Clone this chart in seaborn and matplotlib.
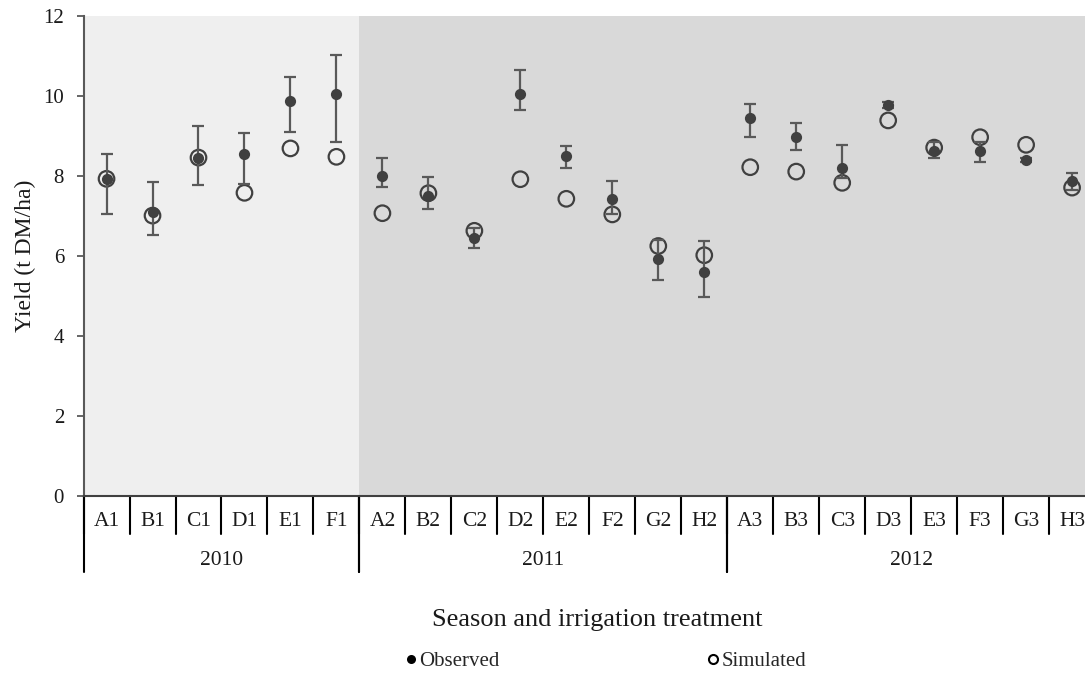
import numpy as np
import pandas as pd
import matplotlib
matplotlib.use("Agg")
import matplotlib.pyplot as plt
from matplotlib.lines import Line2D
import seaborn as sns

# Treatments per season
seasons = ["2010", "2011", "2012"]
treat_2010 = ["A1", "B1", "C1", "D1", "E1", "F1"]
treat_2011 = ["A2", "B2", "C2", "D2", "E2", "F2", "G2", "H2"]
treat_2012 = ["A3", "B3", "C3", "D3", "E3", "F3", "G3", "H3"]

# Yield (t DM/ha)
observed = [7.93, 7.11, 8.46, 8.56, 9.87, 10.04,
            8.01, 7.50, 6.45, 10.06, 8.49, 7.42, 5.93, 5.60,
            9.45, 8.98, 8.21, 9.78, 8.63, 8.63, 8.40, 7.87]
simulated = [7.93, 7.01, 8.46, 7.58, 8.69, 8.48,
             7.07, 7.57, 6.63, 7.92, 7.43, 7.04, 6.25, 6.02,
             8.22, 8.11, 7.83, 9.39, 8.71, 8.97, 8.78, 7.71]
# Lower and upper ends of the observed error bars
obs_low = [7.05, 6.53, 7.78, 7.80, 9.11, 8.85,
           7.72, 7.17, 6.21, 9.65, 8.19, 7.04, 5.39, 4.98,
           8.98, 8.66, 7.94, 9.69, 8.46, 8.35, 8.36, 7.66]
obs_high = [8.55, 7.86, 9.25, 9.08, 10.48, 11.03,
            8.44, 7.97, 6.70, 10.65, 8.75, 7.87, 6.40, 6.38,
            9.80, 9.33, 8.78, 9.86, 8.84, 8.84, 8.44, 8.08]

groups = [treat_2010, treat_2011, treat_2012]
treatments = treat_2010 + treat_2011 + treat_2012
df = pd.DataFrame({
    "treatment": treatments,
    "observed": observed,
    "simulated": simulated,
    "low": obs_low,
    "high": obs_high,
})
df["pos"] = np.arange(len(df))

sns.set_theme(style="white")
plt.rcParams["font.family"] = ["Liberation Serif", "DejaVu Serif"]

FS = 15.5
dark = "#404040"
bar_col = "#595959"
txt = "#1a1a1a"

fig = plt.figure(figsize=(10.85, 6.73), dpi=100)
ax = fig.add_axes([0.0770, 0.263, 0.9323, 0.7132])

# Season background bands
n0 = len(treat_2010)
n = len(treatments)
ax.axvspan(-0.5, n0 - 0.5, color="#efefef", lw=0, zorder=0)
ax.axvspan(n0 - 0.5, n - 0.5, color="#d9d9d9", lw=0, zorder=0)

# Simulated: open circles
sns.scatterplot(data=df, x="pos", y="simulated", ax=ax, marker="o", s=125,
                facecolor="none", edgecolor=dark, linewidth=1.6, zorder=3,
                legend=False)
# Observed error bars
yerr = np.vstack([df["observed"] - df["low"], df["high"] - df["observed"]])
ax.errorbar(df["pos"], df["observed"], yerr=yerr, fmt="none", ecolor=bar_col,
            elinewidth=1.6, capsize=4, capthick=1.6, zorder=4)
# Observed: filled circles
sns.scatterplot(data=df, x="pos", y="observed", ax=ax, marker="o", s=65,
                color=dark, edgecolor=dark, linewidth=0, zorder=5,
                legend=False)

ax.set_xlim(-0.5, n - 0.5)
ax.set_ylim(0, 12)
ax.set_yticks(np.arange(0, 13, 2))
ax.set_xticks([])
ax.set_xlabel("")
ax.set_ylabel("Yield (t DM/ha)", fontsize=17, labelpad=5, color=txt)
ax.tick_params(axis="y", which="major", left=True, length=5, width=1.3,
               color=bar_col, pad=9, labelsize=15, labelcolor=txt)

for side in ["top", "right"]:
    ax.spines[side].set_visible(False)
ax.spines["left"].set_color(bar_col)
ax.spines["left"].set_linewidth(1.5)
ax.spines["bottom"].set_color("#404040")
ax.spines["bottom"].set_linewidth(1.5)

# Two-level category axis beneath the plot
trans = ax.get_xaxis_transform()
for i in range(n + 1):
    ax.plot([i - 0.5, i - 0.5], [0, -0.079], transform=trans, color="black",
            lw=1.5, clip_on=False)
for i, t in enumerate(treatments):
    ax.text(i, -0.054, t, transform=trans, ha="center", va="center",
            fontsize=FS, color=txt)
start = 0
for season, grp in zip(seasons, groups):
    end = start + len(grp)
    for b in (start, end):
        ax.plot([b - 0.5, b - 0.5], [0, -0.158], transform=trans,
                color="black", lw=1.5, clip_on=False)
    ax.text((start + end - 1) / 2, -0.135, season, transform=trans,
            ha="center", va="center", fontsize=FS, color=txt)
    start = end

fig.text(0.550, 0.079, "Season and irrigation treatment", ha="center",
         va="center", fontsize=19, color=txt)

handles = [
    Line2D([], [], ls="none", marker="o", markersize=6.5, color="black",
           markeredgewidth=0, label="Observed"),
    Line2D([], [], ls="none", marker="o", markersize=6.5, markerfacecolor="none",
           markeredgecolor="black", markeredgewidth=1.5, label="Simulated"),
]
fig.legend(handles=handles, loc="center", bbox_to_anchor=(0.5585, 0.017),
           ncol=2, frameon=False, fontsize=15, handlelength=0.5,
           handletextpad=0.14, columnspacing=10.0)

fig.savefig("out.png", dpi=100)
